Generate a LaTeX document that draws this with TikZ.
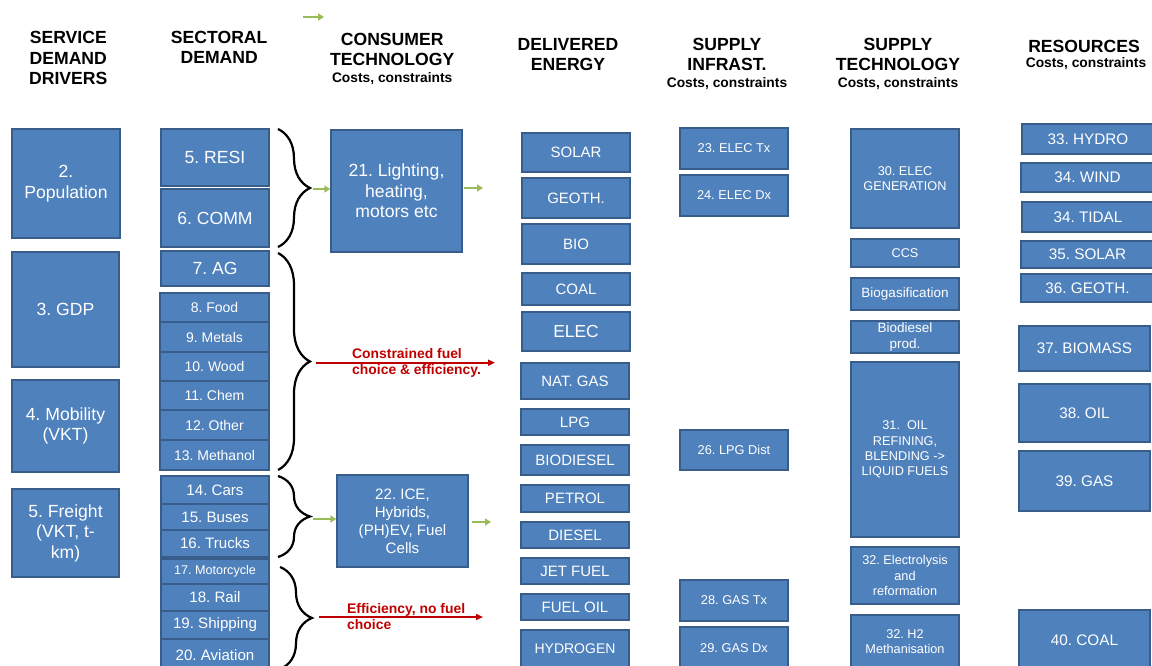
\documentclass[tikz,border=0pt]{standalone}
\usepackage{fontspec}
\setmainfont{Liberation Sans}
\usetikzlibrary{arrows.meta,decorations.pathreplacing}
\definecolor{boxblue}{HTML}{4F81BD}
\definecolor{boxedge}{HTML}{385D8A}
\definecolor{arrgreen}{HTML}{9BBB59}
\definecolor{arrred}{HTML}{C00000}
\frenchspacing
\newcommand{\fs}[2]{\fontsize{#1}{#2}\selectfont}
\newcommand{\bx}[7]{\node[box,#2,minimum width={(#5-#3)*1pt},minimum height={(#6-#4)*1pt}] (#1) at ({(#3+#5)/2},{(#4+#6)/2}) {#7};}
\begin{document}
\begin{tikzpicture}[x=1pt,y=-1pt,
  box/.style={draw=boxedge,fill=boxblue,line width=1.5pt,text=white,align=center,inner sep=1pt},
  hdr/.style={font=\bfseries\fs{17.6}{20.3},align=center,inner sep=0pt},
  subhdr/.style={font=\bfseries\fs{13.8}{16},inner sep=0pt},
  fA/.style={font=\fs{17.6}{20.5}},
  fB/.style={font=\fs{14}{16}},
  fC/.style={font=\fs{12.6}{15}},
  fD/.style={font=\fs{15.1}{18}},
  fE/.style={font=\fs{15}{18}},
  fF/.style={font=\fs{17.4}{20}},
  fG/.style={font=\fs{12.8}{15}},
  fH/.style={font=\fs{12.7}{15.2}},
  fI/.style={font=\fs{13.5}{16.3}},
  fJ/.style={font=\fs{15.3}{18}},
  garrow/.style={arrgreen,line width=2.5pt,-{Triangle[length=6pt,width=7pt]}},
  rarrow/.style={arrred,line width=2pt,-{Triangle[length=7pt,width=6pt]}},
  brc/.style={decorate,decoration={brace,amplitude=32pt},line width=2.2pt},
  rtext/.style={text=arrred,font=\bfseries\fs{13.9}{15.7},align=left,inner sep=0pt,anchor=west}]
\useasboundingbox (0,0) rectangle (1152,666);

% headers
\node[hdr] (h1) at (68.3,58.2) {SERVICE\\DEMAND\\DRIVERS};
\node[hdr] (h2) at (219.2,47.5) {SECTORAL\\DEMAND};
\node[hdr] (h3) at (392.2,49.3) {CONSUMER\\TECHNOLOGY};
\node[subhdr] (h3s) at (392.2,78.7) {Costs, constraints};
\node[hdr] (h4) at (568,54.5) {DELIVERED\\ENERGY};
\node[hdr] (h5) at (727,54.5) {SUPPLY\\INFRAST.};
\node[subhdr] (h5s) at (727,84) {Costs, constraints};
\node[hdr] (h6) at (898,54.2) {SUPPLY\\TECHNOLOGY};
\node[subhdr] (h6s) at (898,84) {Costs, constraints};
\node[hdr] (h7) at (1084,46) {RESOURCES};
\node[subhdr] (h7s) at (1086,64) {Costs, constraints};

% service demand drivers
\bx{pop}{fA}{12}{129}{120}{238}{2.\\Population}
\bx{gdp}{fA}{12}{252}{119}{367}{3. GDP}
\bx{mob}{fA}{12}{380}{119}{472}{4. Mobility\\(VKT)}
\bx{frt}{fA}{12}{489}{119}{577}{5. Freight\\(VKT, t-\\km)}

% sectoral demand
\bx{resi}{fA}{161}{129}{269}{186}{5. RESI}
\bx{comm}{fA}{161}{189}{269}{247}{6. COMM}
\bx{ag}{fA}{161}{251}{269}{286}{7. AG}
\bx{food}{fB}{160}{293}{269}{322}{8. Food}
\bx{metals}{fB}{160}{322}{269}{352}{9. Metals}
\bx{wood}{fB}{160}{352}{269}{381}{10. Wood}
\bx{chem}{fB}{160}{381}{269}{410}{11. Chem}
\bx{other}{fB}{160}{410}{269}{440}{12. Other}
\bx{meth}{fB}{160}{440}{269}{470}{13. Methanol}
\bx{cars}{fD}{161}{476}{269}{504}{14. Cars}
\bx{buses}{fD}{161}{504}{269}{530}{15. Buses}
\bx{trucks}{fD}{161}{530}{269}{557}{16. Trucks}
\bx{moto}{fC}{161}{559}{269}{584}{17. Motorcycle}
\bx{rail}{fD}{161}{584}{269}{611}{18. Rail}
\bx{ship}{fD}{161}{611}{269}{639}{19. Shipping}
\bx{avia}{fD}{161}{639}{269}{672}{20. Aviation}

% consumer technology
\bx{lht}{fA}{331}{130}{462}{252}{21. Lighting,\\heating,\\motors etc}
\bx{ice}{fD}{337}{475}{468}{567}{22. ICE,\\Hybrids,\\(PH)EV, Fuel\\Cells}

% delivered energy
\bx{dsolar}{fE}{522}{133}{630}{172}{SOLAR}
\bx{dgeo}{fE}{522}{178}{630}{218}{GEOTH.}
\bx{dbio}{fE}{522}{224}{630}{264}{BIO}
\bx{dcoal}{fE}{522}{273}{630}{305}{COAL}
\bx{delec}{fF}{522}{312}{630}{351}{ELEC}
\bx{dgas}{fE}{521}{363}{629}{399}{NAT. GAS}
\bx{dlpg}{fE}{521}{409}{629}{435}{LPG}
\bx{dbiod}{fE}{521}{445}{629}{475}{BIODIESEL}
\bx{dpet}{fE}{521}{485}{629}{512}{PETROL}
\bx{ddies}{fE}{521}{522}{629}{548}{DIESEL}
\bx{djet}{fE}{521}{558}{629}{584}{JET FUEL}
\bx{dfuel}{fE}{521}{594}{629}{620}{FUEL OIL}
\bx{dhyd}{fB}{521}{630}{629}{668}{HYDROGEN}

% supply infrastructure
\bx{etx}{fG}{680}{128}{788}{169}{23. ELEC Tx}
\bx{edx}{fG}{680}{175}{788}{216}{24. ELEC Dx}
\bx{lpgd}{fG}{680}{430}{788}{470}{26. LPG Dist}
\bx{gtx}{fG}{680}{580}{788}{621}{28. GAS Tx}
\bx{gdx}{fG}{680}{627}{788}{669}{29. GAS Dx}

% supply technology
\bx{egen}{fH}{851}{129}{959}{228}{30. ELEC\\GENERATION}
\bx{ccs}{fH}{851}{239}{959}{267}{CCS}
\bx{bgas}{fI}{851}{278}{959}{310}{Biogasification}
\bx{bdp}{fI}{851}{321}{959}{353}{Biodiesel\\prod.}
\bx{ref}{fH}{851}{362}{959}{537}{31.~ OIL\\REFINING,\\BLENDING ->\\LIQUID FUELS}
\bx{elys}{fH}{851}{547}{959}{604}{32. Electrolysis\\and\\reformation}
\bx{h2m}{fH}{851}{615}{959}{669}{32. H2\\Methanisation}

% resources
\bx{rhyd}{fJ}{1022}{124}{1154}{154}{33. HYDRO}
\bx{rwind}{fJ}{1021}{163}{1154}{192}{34. WIND}
\bx{rtid}{fJ}{1022}{202}{1154}{232}{34. TIDAL}
\bx{rsol}{fJ}{1021}{241}{1154}{268}{35. SOLAR}
\bx{rgeo}{fJ}{1021}{274}{1154}{302}{36. GEOTH.}
\bx{rbio}{fJ}{1019}{326}{1150}{371}{37. BIOMASS}
\bx{roil}{fJ}{1019}{384}{1150}{442}{38. OIL}
\bx{rgas}{fJ}{1019}{451}{1150}{511}{39. GAS}
\bx{rcoal}{fJ}{1019}{610}{1150}{670}{40. COAL}

% braces
\coordinate (b1t) at (278,129);   \coordinate (b1b) at (278,247);
\coordinate (b2t) at (278,253);   \coordinate (b2b) at (278,470);
\coordinate (b3t) at (278,476);   \coordinate (b3b) at (278,557);
\coordinate (b4t) at (280,567);   \coordinate (b4b) at (280,669);
\draw[brc] (b1t) -- (b1b);
\draw[brc] (b2t) -- (b2b);
\draw[brc] (b3t) -- (b3b);
\draw[brc] (b4t) -- (b4b);

% green arrows
\coordinate (g1s) at (313,189);
\draw[garrow] (g1s) -- (g1s -| lht.west);
\coordinate (g2s) at (464,188); \coordinate (g2e) at (483,188);
\draw[garrow] (g2s) -- (g2e);
\coordinate (g3s) at (313,519);
\draw[garrow] (g3s) -- (g3s -| ice.west);
\coordinate (g4s) at (472,522); \coordinate (g4e) at (491,522);
\draw[garrow] (g4s) -- (g4e);
\coordinate (g5s) at (303,17); \coordinate (g5e) at (324,17);
\draw[garrow] (g5s) -- (g5e);

% red arrows with labels
\coordinate (r1s) at (316,362.7); \coordinate (r1e) at (495,362.7);
\draw[rarrow] (r1s) -- (r1e);
\node[rtext] (r1t) at (352,363) {Constrained fuel\\choice \& efficiency.};
\coordinate (r2s) at (319,617); \coordinate (r2e) at (483,617);
\draw[rarrow] (r2s) -- (r2e);
\node[rtext] (r2t) at (347,616.2) {Efficiency, no fuel\\choice};
\end{tikzpicture}
\end{document}
